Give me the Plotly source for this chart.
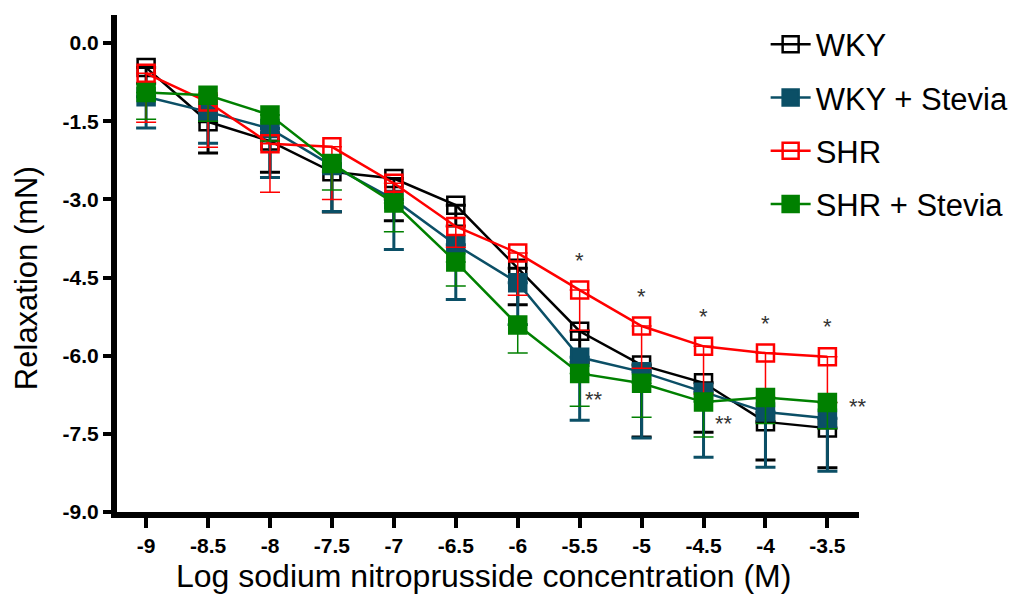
import plotly.graph_objects as go

conc = [-9, -8.5, -8, -7.5, -7, -6.5, -6, -5.5, -5, -4.5, -4, -3.5]
tick_labels = ["-9", "-8.5", "-8", "-7.5", "-7", "-6.5", "-6", "-5.5", "-5", "-4.5", "-4", "-3.5"]

wky = [-0.47, -1.51, -1.88, -2.47, -2.60, -3.11, -4.32, -5.53, -6.18, -6.52, -7.27, -7.39]
wky_err = [0.30, 0.60, 0.60, 0.77, 0.81, 0.40, 0.70, 0.60, 1.38, 0.95, 0.73, 0.76]

wky_st = [-1.03, -1.32, -1.64, -2.35, -3.00, -3.87, -4.60, -6.03, -6.31, -6.70, -7.08, -7.20]
wky_st_err = [0.60, 0.60, 0.94, 0.88, 0.96, 1.05, 0.80, 1.21, 1.27, 1.25, 1.06, 1.02]

shr = [-0.58, -1.13, -1.93, -1.99, -2.69, -3.52, -4.03, -4.74, -5.43, -5.82, -5.95, -6.02]
shr_err = [0.94, 0.87, 0.93, 1.01, 0.30, 0.40, 0.81, 0.77, 0.81, 0.92, 0.85, 0.88]

shr_st = [-0.95, -1.00, -1.38, -2.31, -3.07, -4.20, -5.41, -6.34, -6.53, -6.89, -6.80, -6.90]
shr_st_err = [0.51, 0.50, 0.50, 0.51, 0.55, 0.46, 0.54, 0.63, 0.65, 0.67, 0.50, 0.50]

y_ticks = [0, -1.5, -3, -4.5, -6, -7.5, -9]
y_tick_labels = ["0.0", "-1.5", "-3.0", "-4.5", "-6.0", "-7.5", "-9.0"]

star_x = [-5.5, -5, -4.5, -4, -3.5]          # SHR vs WKY
dstar_x = [-5.5, -4.5, -3.5]                 # SHR+Stevia vs SHR

series = [
    ("WKY", wky, wky_err, "#000000", "square-open", 3),
    ("WKY + Stevia", wky_st, wky_st_err, "#0b4f66", "square", 3),
    ("SHR", shr, shr_err, "#ff0000", "square-open", 1.5),
    ("SHR + Stevia", shr_st, shr_st_err, "#008000", "square", 1.5),
]

font_fam = "Arial, Liberation Sans, sans-serif"

fig = go.Figure()
for i, (name, ys, errs, col, sym, ew) in enumerate(series):
    fig.add_trace(go.Scatter(
        x=conc, y=ys, name=name, mode="lines+markers",
        legendgroup=f"g{i}",
        line=dict(color=col, width=2.5),
        marker=dict(symbol=sym, size=17, color=col,
                    line=dict(color=col, width=2.5)),
        error_y=dict(type="data", symmetric=False,
                     array=[0] * len(errs), arrayminus=errs,
                     color=col, thickness=ew, width=10),
        cliponaxis=False,
    ))

shr_map = dict(zip(conc, shr))
for xv in star_x:
    fig.add_annotation(x=xv, y=shr_map[xv], text="*", showarrow=False,
                       yshift=30, font=dict(size=22, color="#333333", family=font_fam))

shr_st_map = dict(zip(conc, shr_st))
dstar_dx = [14, 20, 31]
dstar_dy = [-26, -21, -4]
for xv, dx, dy in zip(dstar_x, dstar_dx, dstar_dy):
    fig.add_annotation(x=xv, y=shr_st_map[xv], text="**", showarrow=False,
                       xshift=dx, yshift=dy,
                       font=dict(size=22, color="#333333", family=font_fam))

# axis titles
fig.add_annotation(xref="paper", yref="paper", x=0.494, y=-0.128,
                   xanchor="center", yanchor="middle", showarrow=False,
                   text="Log sodium nitroprusside concentration (M)",
                   font=dict(size=32, family=font_fam, color="black"))
fig.add_annotation(xref="paper", yref="paper", x=-0.121, y=0.471,
                   xanchor="center", yanchor="middle", showarrow=False,
                   textangle=-90, text="Relaxation (mN)",
                   font=dict(size=31, family=font_fam, color="black"))

fig.update_layout(
    width=1025, height=597,
    margin=dict(l=117, r=165, t=15, b=85),
    plot_bgcolor="white", paper_bgcolor="white",
    font=dict(family=font_fam, color="black"),
    showlegend=True,
    legend=dict(x=0.873, y=0.995, xanchor="left", yanchor="top",
                font=dict(size=31, family=font_fam),
                tracegroupgap=10, itemwidth=40,
                bgcolor="rgba(0,0,0,0)"),
    xaxis=dict(
        range=[-9.235, -3.245], tickmode="array", tickvals=conc, ticktext=tick_labels,
        showgrid=False, zeroline=False, showline=True, linecolor="black", linewidth=6,
        ticks="outside", ticklen=10, tickwidth=4, tickcolor="black",
        tickfont=dict(size=21, family=font_fam, weight="bold"),
    ),
    yaxis=dict(
        range=[-9.0, 0.54], tickmode="array",
        tickvals=y_ticks, ticktext=y_tick_labels,
        showgrid=False, zeroline=False, showline=True, linecolor="black", linewidth=6,
        ticks="outside", ticklen=8, tickwidth=4, tickcolor="black",
        tickfont=dict(size=21, family=font_fam, weight="bold"),
    ),
)

fig.write_html("out.html")
